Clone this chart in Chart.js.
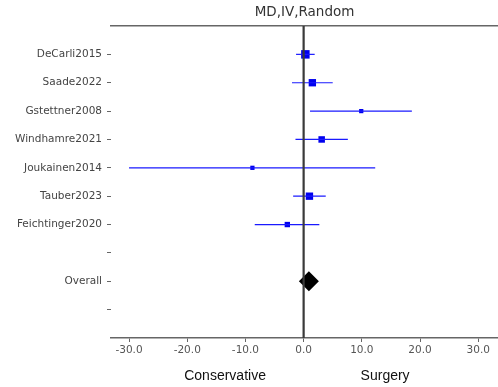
<!DOCTYPE html>
<html>
<head>
<meta charset="utf-8">
<script src="https://cdn.jsdelivr.net/npm/chart.js@4/dist/chart.umd.min.js"></script>
<style>
  html, body { margin: 0; padding: 0; background: #fff; }
  #wrap { width: 498px; height: 387px; }
</style>
</head>
<body>
<div id="wrap"><canvas id="forest"></canvas></div>
<script>
// Studies, top to bottom
const studies = ['DeCarli2015', 'Saade2022', 'Gstettner2008', 'Windhamre2021', 'Joukainen2014', 'Tauber2023', 'Feichtinger2020'];
const estimate = [0.3, 1.5, 9.9, 3.1, -8.8, 1.0, -2.8];
const ciLow = [-1.3, -2.0, 1.1, -1.4, -30.0, -1.8, -8.4];
const ciHigh = [1.9, 5.0, 18.6, 7.6, 12.3, 3.8, 2.7];

// pooled result
const overallEst = 0.9;

// y tick labels (row index -> text)
const rowLabels = [...studies, '', 'Overall', ''];
const xTicks = [-30, -20, -10, 0, 10, 20, 30];
const sideLabels = ['Conservative', 'Surgery'];
const sidePos = [-13.5, 14];

const markerRadius = [6, 5.2, 3, 4.6, 3, 5.2, 3.8];
const blue = '#1a1aff';

const datasets = [];

// vertical null line
datasets.push({
    type: 'line',
    data: [{ x: 0, y: -1 }, { x: 0, y: 10 }],
    borderColor: '#3a3a3a',
    borderWidth: 2.2,
    pointRadius: 0
});

// confidence intervals
studies.forEach((s, i) => {
    datasets.push({
        type: 'line',
        data: [{ x: ciLow[i], y: i }, { x: ciHigh[i], y: i }],
        borderColor: blue,
        borderWidth: 1.2,
        pointRadius: 0
    });
});

// point estimates
datasets.push({
    type: 'scatter',
    data: studies.map((s, i) => ({ x: estimate[i], y: i })),
    pointStyle: 'rect',
    pointRadius: markerRadius,
    backgroundColor: '#0000ee',
    borderColor: '#0000ee',
    borderWidth: 0
});

// overall diamond
datasets.push({
    type: 'scatter',
    data: [{ x: overallEst, y: rowLabels.indexOf('Overall') }],
    pointStyle: 'rectRot',
    pointRadius: 10,
    backgroundColor: '#000',
    borderColor: '#000',
    borderWidth: 0
});

// no extra side padding from tick labels
function noPad(scale) {
    scale.paddingLeft = 0;
    scale.paddingRight = 0;
    scale.paddingTop = 0;
    scale.paddingBottom = 0;
}

new Chart(document.getElementById('forest'), {
    type: 'scatter',
    data: { datasets },
    options: {
        responsive: true,
        maintainAspectRatio: false,
        animation: false,
        layout: { padding: 0, autoPadding: false },
        plugins: {
            legend: { display: false },
            tooltip: { enabled: false }
        },
        scales: {
            x: {
                type: 'linear',
                position: 'bottom',
                weight: 0,
                min: -33.1,
                max: 33.4,
                afterBuildTicks: (scale) => { scale.ticks = xTicks.map(v => ({ value: v })); },
                afterFit: (scale) => { scale.height = 23; noPad(scale); },
                ticks: {
                    callback: (v) => Number(v).toFixed(1),
                    color: '#555',
                    font: { family: 'DejaVu Sans', size: 10.5 },
                    padding: 2,
                    maxRotation: 0
                },
                grid: { drawOnChartArea: false, drawTicks: true, tickLength: 4, color: '#666' },
                border: { display: true, color: '#666', width: 1.5 }
            },
            xSide: {
                type: 'linear',
                position: 'bottom',
                weight: 1,
                min: -33.1,
                max: 33.4,
                afterBuildTicks: (scale) => { scale.ticks = sidePos.map(v => ({ value: v })); },
                afterFit: (scale) => { scale.height = 26; noPad(scale); },
                ticks: {
                    callback: (v, i) => sideLabels[i],
                    color: '#111',
                    font: { family: 'Liberation Sans', size: 14 },
                    padding: 7,
                    maxRotation: 0,
                    autoSkip: false
                },
                grid: { display: false, drawTicks: false },
                border: { display: false }
            },
            xTop: {
                type: 'linear',
                position: 'top',
                min: -33.1,
                max: 33.4,
                afterFit: (scale) => { scale.height = 26; noPad(scale); },
                ticks: { display: false },
                grid: { drawOnChartArea: false, drawTicks: false },
                border: { display: true, color: '#666', width: 1.5 },
                title: {
                    display: true,
                    text: 'MD,IV,Random',
                    color: '#333',
                    font: { family: 'DejaVu Sans', size: 13.5 },
                    padding: { top: 4, bottom: 0 }
                }
            },
            y: {
                type: 'linear',
                reverse: true,
                min: -1,
                max: 10,
                afterBuildTicks: (scale) => { scale.ticks = rowLabels.map((l, i) => ({ value: i })); },
                afterFit: (scale) => { scale.width = 111; noPad(scale); },
                ticks: {
                    callback: (v) => rowLabels[v],
                    color: '#444',
                    font: { family: 'DejaVu Sans', size: 10.5 },
                    padding: 5,
                    autoSkip: false
                },
                grid: { drawOnChartArea: false, drawTicks: true, tickLength: 4, color: '#666' },
                border: { display: false }
            }
        }
    }
});
</script>
</body>
</html>
